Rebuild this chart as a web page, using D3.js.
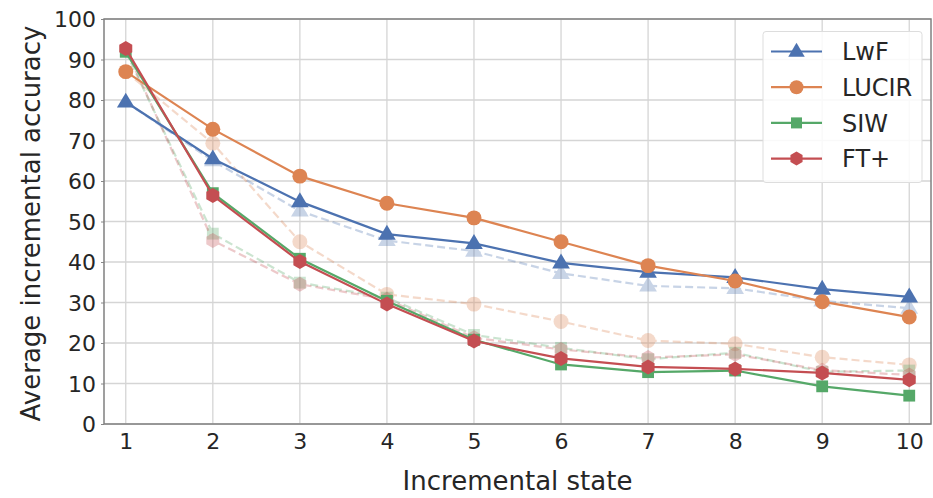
<!DOCTYPE html>
<html>
<head>
<meta charset="utf-8">
<script src="https://cdn.jsdelivr.net/npm/d3@7/dist/d3.min.js"></script>
<style>
  html, body { margin: 0; padding: 0; background: #fff; }
  svg { display: block; }
  text { font-family: "DejaVu Sans", sans-serif; fill: #262626; }
</style>
</head>
<body>
<svg id="chart" width="933" height="498"></svg>
<script>
// ---- data ----
const states = [1, 2, 3, 4, 5, 6, 7, 8, 9, 10];
const methods = ["LwF", "LUCIR", "SIW", "FT+"];
const colors = ["#4c72b0", "#dd8452", "#55a868", "#c44e52"];
const markers = ["triangle", "circle", "square", "hexagon"];

const lwf   = [79.5, 65.5, 54.9, 46.9, 44.6, 39.8, 37.5, 36.2, 33.3, 31.4];
const lucir = [87.0, 72.8, 61.2, 54.5, 50.9, 45.0, 39.1, 35.3, 30.2, 26.4];
const siw   = [91.9, 57.0, 40.8, 30.4, 20.8, 14.7, 12.8, 13.2, 9.3, 7.0];
const ftp   = [92.7, 56.4, 40.1, 29.6, 20.5, 16.2, 14.1, 13.6, 12.6, 10.9];

const lwfDash   = [79.5, 65.0, 52.6, 45.3, 42.7, 37.2, 34.1, 33.5, 30.4, 28.6];
const lucirDash = [87.0, 69.3, 45.0, 32.0, 29.6, 25.3, 20.6, 19.8, 16.5, 14.6];
const siwDash   = [91.9, 47.0, 34.9, 31.2, 22.0, 18.8, 16.0, 17.6, 12.9, 13.2];
const ftpDash   = [92.7, 45.3, 34.5, 30.8, 21.3, 18.4, 16.4, 17.2, 13.3, 12.1];

const yTicks = [0, 10, 20, 30, 40, 50, 60, 70, 80, 90, 100];

const solidSeries = [lwf, lucir, siw, ftp];
const dashSeries = [lwfDash, lucirDash, siwDash, ftpDash];

// ---- layout ----
const svg = d3.select("#chart");
const pL = 104, pR = 931, pT = 19, pB = 424;

const x = d3.scaleLinear().domain([0.75, 10.25]).range([pL, pR]);
const y = d3.scaleLinear().domain([0, 100]).range([pB, pT]);

// grid
const grid = svg.append("g");
grid.selectAll("line.gx").data(states).enter().append("line")
  .attr("x1", d => x(d)).attr("x2", d => x(d))
  .attr("y1", pT).attr("y2", pB)
  .attr("stroke", "#d5d5d5").attr("stroke-width", 1.3);
grid.selectAll("line.gy").data(yTicks).enter().append("line")
  .attr("x1", pL).attr("x2", pR)
  .attr("y1", d => y(d)).attr("y2", d => y(d))
  .attr("stroke", "#d5d5d5").attr("stroke-width", 1.3);

// axes
const xAxis = d3.axisBottom(x).tickValues(states).tickSize(3).tickPadding(3).tickFormat(d3.format("d"));
const yAxis = d3.axisLeft(y).tickValues(yTicks).tickSize(3).tickPadding(5).tickFormat(d3.format("d"));

const gx = svg.append("g").attr("transform", `translate(0,${pB})`).call(xAxis);
const gy = svg.append("g").attr("transform", `translate(${pL},0)`).call(yAxis);
[gx, gy].forEach(g => {
  g.select(".domain").remove();
  g.selectAll(".tick line").attr("stroke", "#888").attr("stroke-width", 1);
  g.selectAll(".tick text").style("font-size", "22px").style("font-family", "DejaVu Sans, sans-serif").attr("fill", "#262626");
});
gx.selectAll(".tick line").remove();
gx.selectAll(".tick text").attr("dy", "0.85em");
gy.selectAll(".tick text").attr("dy", "0.36em");

// spines
svg.append("rect").attr("x", pL).attr("y", pT)
  .attr("width", pR - pL).attr("height", pB - pT)
  .attr("fill", "none").attr("stroke", "#808080").attr("stroke-width", 1.5);

// symbols
function symbolPath(type, size) {
  if (type === "triangle") {
    const r = size * 0.62;
    return `M0,${-r}L${r*0.95},${r*0.6}L${-r*0.95},${r*0.6}Z`;
  }
  if (type === "circle") return d3.symbol(d3.symbolCircle, size * size * 0.78)();
  if (type === "square") return d3.symbol(d3.symbolSquare, size * size * 0.62)();
  if (type === "hexagon") {
    const r = size * 0.5;
    let p = "";
    for (let i = 0; i < 6; i++) {
      const a = Math.PI / 3 * i - Math.PI / 2;
      p += (i === 0 ? "M" : "L") + (r * Math.cos(a)).toFixed(2) + "," + (r * Math.sin(a)).toFixed(2);
    }
    return p + "Z";
  }
}

const line = d3.line().x((d, i) => x(states[i])).y(d => y(d));
const plot = svg.append("g");
const MS = 15;

// dashed (faded) series
dashSeries.forEach((vals, k) => {
  const g = plot.append("g").attr("opacity", 0.3);
  g.append("path").datum(vals).attr("d", line)
    .attr("fill", "none").attr("stroke", colors[k]).attr("stroke-width", 2.2)
    .attr("stroke-dasharray", "8,4");
  g.selectAll("path.m").data(vals.slice(1)).enter().append("path")
    .attr("transform", (d, i) => `translate(${x(states[i + 1])},${y(d)})`)
    .attr("d", symbolPath(markers[k], MS)).attr("fill", colors[k]);
});

// solid series
solidSeries.forEach((vals, k) => {
  const g = plot.append("g");
  g.append("path").datum(vals).attr("d", line)
    .attr("fill", "none").attr("stroke", colors[k]).attr("stroke-width", 2.2);
  g.selectAll("path.m").data(vals).enter().append("path")
    .attr("transform", (d, i) => `translate(${x(states[i])},${y(d)})`)
    .attr("d", symbolPath(markers[k], MS)).attr("fill", colors[k]);
});

// axis labels
svg.append("text").attr("x", (pL + pR) / 2).attr("y", 490)
  .attr("text-anchor", "middle").style("font-size", "26px").text("Incremental state");
svg.append("text").attr("transform", `translate(31,${(pT + pB) / 2 + 2}) rotate(-90)`)
  .attr("text-anchor", "middle").attr("dy", "0.35em").style("font-size", "26px").text("Average incremental accuracy");

// legend
const lg = svg.append("g").attr("transform", "translate(763,31.5)");
lg.append("rect").attr("width", 159).attr("height", 151).attr("rx", 3)
  .attr("fill", "#fff").attr("fill-opacity", 0.85).attr("stroke", "#dddddd").attr("stroke-width", 1);
methods.forEach((m, k) => {
  const cy = 20 + k * 35.7;
  lg.append("line").attr("x1", 8).attr("x2", 59).attr("y1", cy).attr("y2", cy)
    .attr("stroke", colors[k]).attr("stroke-width", 2.2);
  lg.append("path").attr("transform", `translate(33.5,${cy})`)
    .attr("d", symbolPath(markers[k], 14)).attr("fill", colors[k]);
  lg.append("text").attr("x", 79).attr("y", cy).attr("dy", "0.36em")
    .style("font-size", "24px").text(m);
});
</script>
</body>
</html>
